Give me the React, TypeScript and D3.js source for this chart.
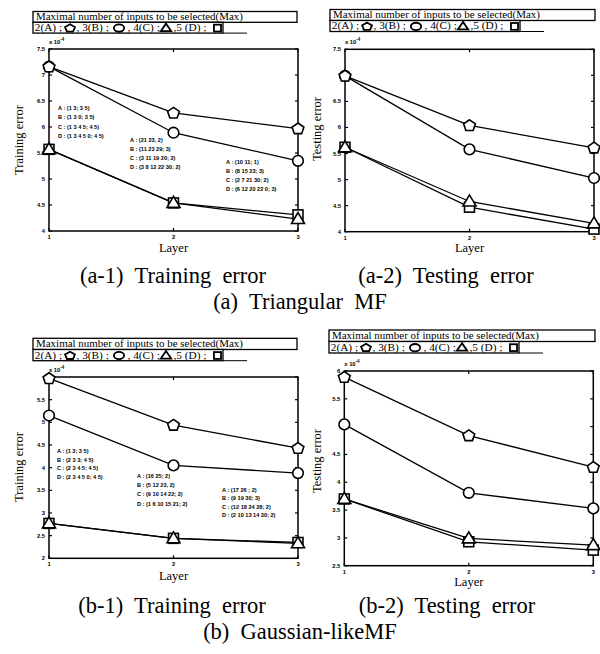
import React from "react";
import * as d3 from "d3";

// ---------------- DATA (values are ×10^-4) ----------------
const layers = [1, 2, 3];
const seriesNames = ["A", "B", "C", "D"];
const seriesShapes = ["pentagon", "circle", "triangle", "square"];

// (a-1) Triangular MF – training error
const triTrainA = [7.16, 6.27, 5.97];
const triTrainB = [7.16, 5.89, 5.35];
const triTrainC = [5.57, 4.54, 4.23];
const triTrainD = [5.57, 4.54, 4.31];

// (a-2) Triangular MF – testing error
const triTestA = [6.99, 6.04, 5.61];
const triTestB = [6.99, 5.58, 5.03];
const triTestC = [5.62, 4.58, 4.16];
const triTestD = [5.62, 4.47, 4.05];

// (b-1) Gaussian-like MF – training error
const gauTrainA = [5.97, 4.94, 4.43];
const gauTrainB = [5.15, 4.05, 3.88];
const gauTrainC = [2.77, 2.44, 2.33];
const gauTrainD = [2.77, 2.44, 2.35];

// (b-2) Gaussian-like MF – testing error
const gauTestA = [5.89, 4.84, 4.27];
const gauTestB = [5.04, 3.81, 3.53];
const gauTestC = [3.7, 2.99, 2.87];
const gauTestD = [3.7, 2.93, 2.78];

// axis ticks
const triYTicks = [4, 4.5, 5, 5.5, 6, 6.5, 7, 7.5];
const triTrainYLabels = ["4", "4.5", "5", "5.5", "6", "6.5", "7", "7.5"];
const triTestYLabels = ["4", "4.5", "5", "5.5", "6", "6.5", "", "7.5"];
const gauTrainYTicks = [2, 2.5, 3, 3.5, 4, 4.5, 5, 5.5, 6];
const gauTrainYLabels = ["2", "2.5", "3", "3.5", "4", "4.5", "5", "5.5", ""];
const gauTestYTicks = [2.5, 3, 3.5, 4, 4.5, 5, 5.5, 6];
const gauTestYLabels = ["2.5", "3", "3.5", "4", "4.5", "", "5.5", "6"];
const xTickLabels = ["1", "2", "3"];

// annotations (selected inputs per layer)
const triNoteL1 = ["A : (1 3; 3 5)", "B : (1 3 0; 3 5)", "C : (1 3 4 5; 4 5)", "D : (1 3 4 5 0; 4 5)"];
const triNoteL2 = ["A : (21 23, 2)", "B : (11 23 29; 3)", "C : (3 11 19 20; 2)", "D : (3 8 12 22 30; 2)"];
const triNoteL3 = ["A : (10 11; 1)", "B : (8 15 23; 3)", "C : (2 7 21 30; 2)", "D : (6 12 20 22 0; 3)"];
const gauNoteL1 = ["A : (1 3; 3 5)", "B : (2 3 3; 4 5)", "C : (2 3 4 5; 4 5)", "D : (2 3 4 5 0; 4 5)"];
const gauNoteL2 = ["A : (16 25; 2)", "B : (5 12 23, 2)", "C : (9 10 14 22; 2)", "D : (1 6 10 15 21; 2)"];
const gauNoteL3 = ["A : (17 26 ; 2)", "B : (9 19 30; 3)", "C : (12 18 24 28; 2)", "D : (2 10 13 14 30; 2)"];

const legendTitle = "Maximal number of inputs to be selected(Max)";
const legendItems = ["2(A) ;", ", 3(B) ;", ", 4(C) ;", ",5 (D) ;"];

// ---------------- STYLE ----------------
const SERIF = "'Liberation Serif', 'Times New Roman', serif";
const SANS = "'Liberation Sans', Arial, sans-serif";

function Marker({
  shape,
  cx,
  cy,
  s,
  sx = 1,
  sy = 1,
  sw = 1.5,
}: {
  shape: string;
  cx: number;
  cy: number;
  s: number;
  sx?: number;
  sy?: number;
  sw?: number;
}) {
  const common = { fill: "white", stroke: "black", strokeWidth: sw };
  if (shape === "circle") return <ellipse cx={cx} cy={cy} rx={s * 0.86 * sx} ry={s * 0.86 * sy} {...common} />;
  if (shape === "square") {
    const h = s * 0.8;
    return <rect x={cx - h * sx} y={cy - h * sy} width={2 * h * sx} height={2 * h * sy} {...common} />;
  }
  if (shape === "triangle") {
    const pts = [
      [cx, cy - s * 1.05 * sy],
      [cx - s * 1.05 * sx, cy + s * 0.72 * sy],
      [cx + s * 1.05 * sx, cy + s * 0.72 * sy],
    ];
    return <polygon points={pts.map((p) => p.join(",")).join(" ")} {...common} />;
  }
  const pts = d3.range(5).map((k) => {
    const a = (-90 + k * 72) * (Math.PI / 180);
    return [cx + s * sx * Math.cos(a), cy + s * sy * (0.95 * Math.sin(a) + 0.05)];
  });
  return <polygon points={pts.map((p) => p.join(",")).join(" ")} {...common} />;
}

function Legend({ x0, y0, w, rh }: { x0: number; y0: number; w: number; rh: number }) {
  const textX = [1.8, 43.5, 94.5, 140.5];
  const markX = [37, 86, 133, 184.5];
  const markSX = [1.0, 1.15, 0.95, 0.85];
  return (
    <g>
      <rect x={x0} y={y0} width={w} height={rh} fill="white" stroke="black" strokeWidth={1.3} />
      <rect x={x0} y={y0 + rh} width={190} height={rh} fill="white" stroke="black" strokeWidth={1.3} />
      <line x1={x0 + 190} x2={x0 + 214} y1={y0 + 2 * rh} y2={y0 + 2 * rh} stroke="black" strokeWidth={1} />
      <text
        x={x0 + 3}
        y={y0 + rh - 2.2}
        fontFamily={SERIF}
        fontSize={11}
        textLength={207}
        lengthAdjust="spacingAndGlyphs"
      >
        {legendTitle}
      </text>
      {legendItems.map((t, i) => (
        <g key={i}>
          <text
            x={x0 + textX[i]}
            y={y0 + 2 * rh - 2.2}
            fontFamily={SERIF}
            fontSize={11.3}
            style={{ whiteSpace: "pre" }}
          >
            {t}
          </text>
          <Marker
            shape={seriesShapes[i]}
            cx={x0 + markX[i]}
            cy={y0 + 1.5 * rh + 0.4}
            s={5.2}
            sx={markSX[i]}
            sy={0.82}
            sw={1.8}
          />
        </g>
      ))}
    </g>
  );
}

type PanelProps = {
  left: number;
  right: number;
  top: number;
  bottom: number;
  yDomain: [number, number];
  yTicks: number[];
  yLabels: string[];
  series: number[][];
  yTitle: string;
  yTitleX: number;
  yTitleY: number;
  layerY: number;
  notes?: { x: number; y: number; lines: string[]; dy: number }[];
  legend: { x0: number; y0: number; w: number; rh: number };
};

function Panel(p: PanelProps) {
  const x = d3.scaleLinear().domain([1, 3]).range([p.left, p.right]);
  const y = d3.scaleLinear().domain(p.yDomain).range([p.bottom, p.top]);
  const line = d3
    .line<number>()
    .x((_, i) => x(layers[i]))
    .y((d) => y(d));
  const tl = 3;
  const order = [3, 2, 1, 0];
  return (
    <g>
      <Legend {...p.legend} />
      {p.yTicks.map((t, i) => (
        <g key={"yt" + i}>
          <line x1={p.left} x2={p.left + tl} y1={y(t)} y2={y(t)} stroke="black" strokeWidth={1.2} />
          <line x1={p.right} x2={p.right - tl} y1={y(t)} y2={y(t)} stroke="black" strokeWidth={1.2} />
          <text x={p.left - 4} y={y(t) + 2} textAnchor="end" fontFamily={SANS} fontWeight="bold" fontSize={5.8}>
            {p.yLabels[i]}
          </text>
        </g>
      ))}
      {layers.map((l, i) => (
        <g key={"xt" + i}>
          <line x1={x(l)} x2={x(l)} y1={p.bottom} y2={p.bottom - tl} stroke="black" strokeWidth={1.2} />
          <line x1={x(l)} x2={x(l)} y1={p.top} y2={p.top + tl} stroke="black" strokeWidth={1.2} />
          <text x={x(l)} y={p.bottom + 8} textAnchor="middle" fontFamily={SANS} fontWeight="bold" fontSize={5.8}>
            {xTickLabels[i]}
          </text>
        </g>
      ))}
      <rect
        x={p.left}
        y={p.top}
        width={p.right - p.left}
        height={p.bottom - p.top}
        fill="none"
        stroke="black"
        strokeWidth={1.5}
      />
      <text x={p.left} y={p.top - 5} fontFamily={SANS} fontWeight="bold" fontSize={5.8}>
        x 10
        <tspan dy={-3} fontSize={4.5}>
          -4
        </tspan>
      </text>
      {order.map((si) => (
        <path key={"l" + si} d={line(p.series[si]) || ""} fill="none" stroke="black" strokeWidth={1.3} />
      ))}
      {order.map((si) =>
        p.series[si].map((v, i) => (
          <Marker key={"m" + si + "-" + i} shape={seriesShapes[si]} cx={x(layers[i])} cy={y(v)} s={6.2} sw={1.6} />
        ))
      )}
      {(p.notes || []).map((n, k) => (
        <g key={"n" + k}>
          {n.lines.map((t, j) => (
            <text
              key={j}
              x={n.x}
              y={n.y + j * n.dy}
              fontFamily={SANS}
              fontWeight="bold"
              fontSize={5.6}
              style={{ whiteSpace: "pre" }}
            >
              {t}
            </text>
          ))}
        </g>
      ))}
      <text
        transform={`translate(${p.yTitleX},${p.yTitleY}) rotate(-90)`}
        textAnchor="middle"
        fontFamily={SERIF}
        fontSize={12.5}
      >
        {p.yTitle}
      </text>
      <text x={(p.left + p.right) / 2} y={p.layerY} textAnchor="middle" fontFamily={SERIF} fontSize={12.5}>
        Layer
      </text>
    </g>
  );
}

function Caption({ x, y, text }: { x: number; y: number; text: string }) {
  return (
    <text x={x} y={y} textAnchor="middle" fontFamily={SERIF} fontSize={22.5} style={{ whiteSpace: "pre" }}>
      {text}
    </text>
  );
}

export default function App() {
  return (
    <svg
      width={600}
      height={654}
      viewBox="0 0 600 654"
      style={{ position: "absolute", left: 0, top: 0, background: "white" }}
    >
      <rect width={600} height={654} fill="white" />
      <Panel
        left={49}
        right={298}
        top={49}
        bottom={231}
        yDomain={[4, 7.5]}
        yTicks={triYTicks}
        yLabels={triTrainYLabels}
        series={[triTrainA, triTrainB, triTrainC, triTrainD]}
        yTitle="Training error"
        yTitleX={23}
        yTitleY={140}
        layerY={252}
        legend={{ x0: 33, y0: 11.5, w: 264, rh: 10.8 }}
        notes={[
          { x: 58, y: 110, lines: triNoteL1, dy: 9.3 },
          { x: 130, y: 142, lines: triNoteL2, dy: 8.9 },
          { x: 226, y: 164, lines: triNoteL3, dy: 8.9 },
        ]}
      />
      <Panel
        left={345}
        right={594}
        top={49.3}
        bottom={231.7}
        yDomain={[4, 7.5]}
        yTicks={triYTicks}
        yLabels={triTestYLabels}
        series={[triTestA, triTestB, triTestC, triTestD]}
        yTitle="Testing error"
        yTitleX={321}
        yTitleY={129}
        layerY={252}
        legend={{ x0: 330, y0: 9.5, w: 265, rh: 11 }}
      />
      <Panel
        left={49}
        right={298}
        top={377}
        bottom={558.3}
        yDomain={[2, 6]}
        yTicks={gauTrainYTicks}
        yLabels={gauTrainYLabels}
        series={[gauTrainA, gauTrainB, gauTrainC, gauTrainD]}
        yTitle="Training error"
        yTitleX={23}
        yTitleY={467}
        layerY={580}
        legend={{ x0: 33, y0: 338.3, w: 264, rh: 11.2 }}
        notes={[
          { x: 57, y: 453, lines: gauNoteL1, dy: 8.6 },
          { x: 137, y: 478, lines: gauNoteL2, dy: 9.2 },
          { x: 222, y: 492, lines: gauNoteL3, dy: 8.3 },
        ]}
      />
      <Panel
        left={344.3}
        right={593.3}
        top={371}
        bottom={565.7}
        yDomain={[2.5, 6]}
        yTicks={gauTestYTicks}
        yLabels={gauTestYLabels}
        series={[gauTestA, gauTestB, gauTestC, gauTestD]}
        yTitle="Testing error"
        yTitleX={321}
        yTitleY={461}
        layerY={586}
        legend={{ x0: 329, y0: 330, w: 266, rh: 11.5 }}
      />
      <Caption x={173} y={283} text="(a-1)  Training  error" />
      <Caption x={446} y={283} text="(a-2)  Testing  error" />
      <Caption x={300} y={309} text="(a)  Triangular  MF" />
      <Caption x={172} y={613} text="(b-1)  Training  error" />
      <Caption x={447} y={613} text="(b-2)  Testing  error" />
      <Caption x={300} y={639} text="(b)  Gaussian-likeMF" />
    </svg>
  );
}
